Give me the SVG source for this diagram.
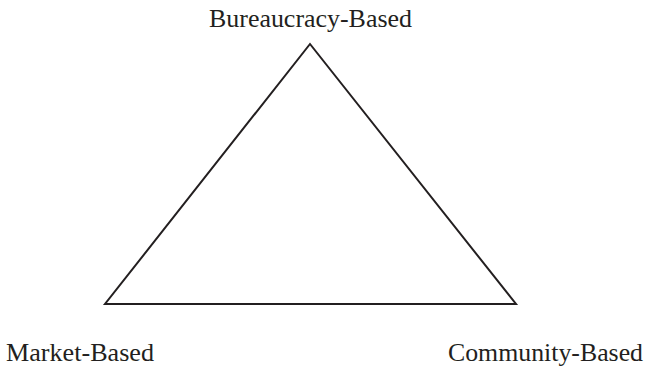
<svg xmlns="http://www.w3.org/2000/svg" width="649" height="366" viewBox="0 0 649 366">
<style>
.lbl{font-family:"Liberation Serif","Times New Roman",serif;font-size:24.5px;fill:#231f20}
.edge{fill:none;stroke:#231f20;stroke-width:2;stroke-linejoin:miter}
</style>
<rect width="649" height="366" fill="#ffffff"/>
<g id="connectors">
<path class="edge" d="M310,44 L105,304 L516,304 Z"/>
</g>
<g id="bureaucracy"><text class="lbl" x="209" y="27" textLength="203" lengthAdjust="spacingAndGlyphs">Bureaucracy-Based</text></g>
<g id="market"><text class="lbl" x="6" y="361" textLength="148" lengthAdjust="spacingAndGlyphs">Market-Based</text></g>
<g id="community"><text class="lbl" x="448" y="361" textLength="195" lengthAdjust="spacingAndGlyphs">Community-Based</text></g>
</svg>
